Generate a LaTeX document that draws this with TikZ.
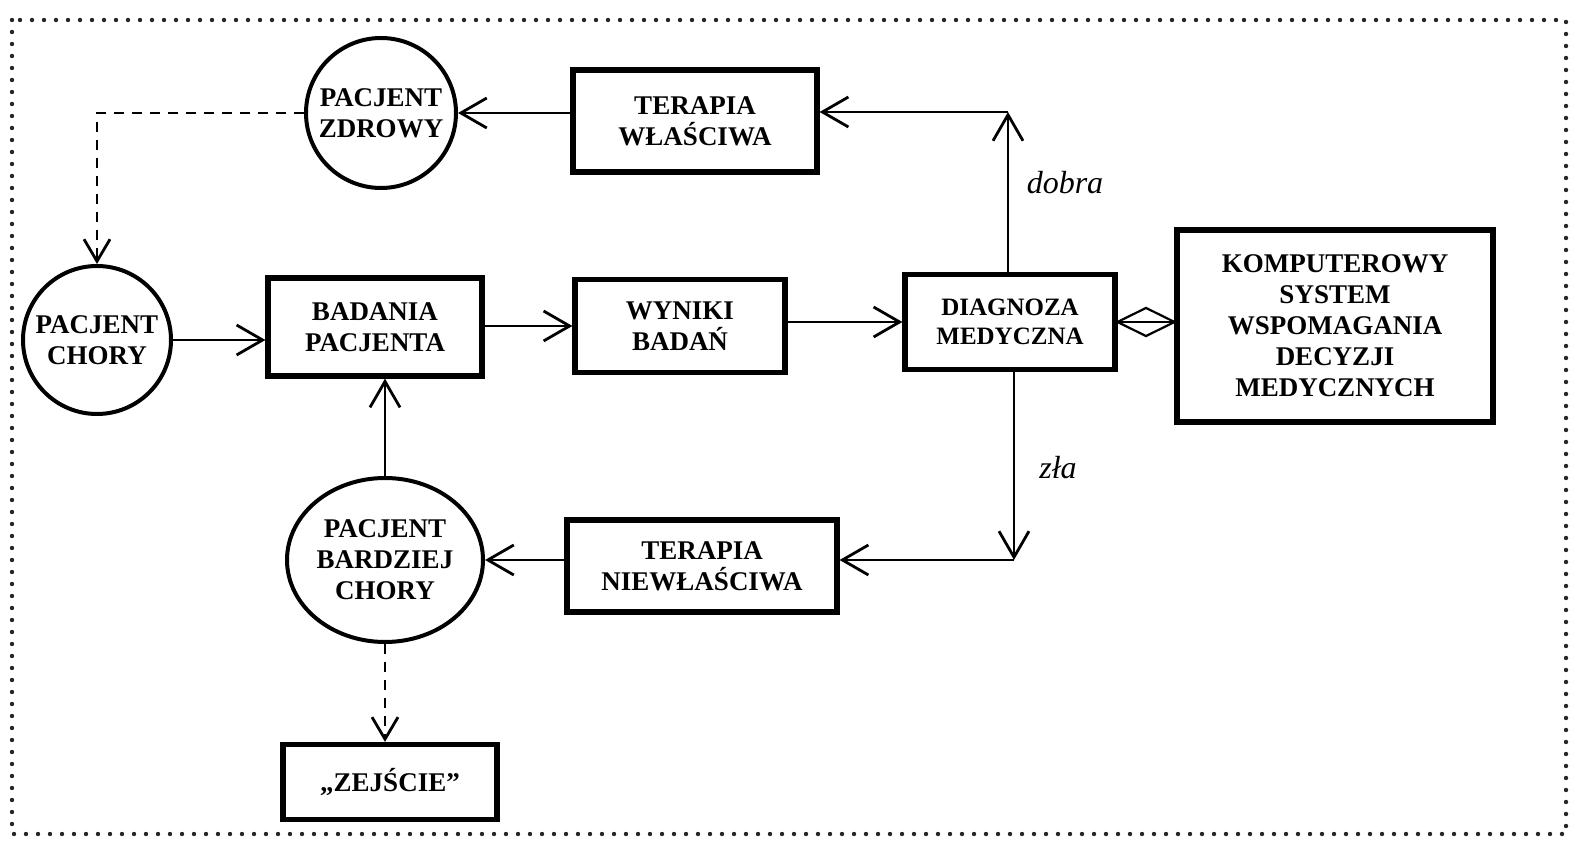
\documentclass[tikz,border=0pt]{standalone}
\usepackage{fontspec}
\setmainfont{Liberation Serif}
\usetikzlibrary{arrows.meta,shapes.geometric,calc}
\tikzset{
  boxnode/.style={draw, line width=2.6pt, rectangle, align=center, inner sep=2pt,
    font=\bfseries\fontsize{13.5}{15.5}\selectfont},
  circnode/.style={draw, line width=2pt, circle, align=center, inner sep=0pt,
    font=\bfseries\fontsize{13.5}{15.5}\selectfont},
  conn/.style={line width=1.4pt, -{Straight Barb[length=13pt,width=15pt,line width=1.4pt]}},
  plainline/.style={line width=1.4pt},
  dashconn/.style={line width=1.4pt, dash pattern=on 5pt off 4pt,
    -{Straight Barb[length=11pt,width=13pt,line width=1.4pt]}},
  lbl/.style={font=\itshape\fontsize{16}{18}\selectfont},
  frame/.style={line width=2.2pt, line cap=round, dash pattern=on 0pt off 6pt, black!85},
}
\begin{document}
\begin{tikzpicture}[x=0.5pt,y=-0.5pt]
\useasboundingbox (0,0) rectangle (1575,854);
\fill[white] (0,0) rectangle (1575,854);
\draw[frame] (12,20) rectangle (1566,834);

\node[circnode, minimum size=75pt] (zdrowy) at (381,113) {PACJENT\\ZDROWY};
\node[boxnode, minimum width=122pt, minimum height=51pt] (tw) at (695,121) {TERAPIA\\WŁAŚCIWA};
\node[circnode, minimum size=74pt] (chory) at (97,340) {PACJENT\\CHORY};
\node[boxnode, minimum width=107pt, minimum height=49pt] (badania) at (375,327) {BADANIA\\PACJENTA};
\node[boxnode, minimum width=105pt, minimum height=46.5pt] (wyniki) at (680,326) {WYNIKI\\BADAŃ};
\node[boxnode, minimum width=105pt, minimum height=47.5pt,
  font=\bfseries\fontsize{12.5}{14.5}\selectfont] (diag) at (1010,322) {DIAGNOZA\\MEDYCZNA};
\node[boxnode, minimum width=158pt, minimum height=96pt] (kds) at (1335,326)
  {KOMPUTEROWY\\SYSTEM\\WSPOMAGANIA\\DECYZJI\\MEDYCZNYCH};
\node[boxnode, minimum width=135pt, minimum height=46pt] (tn) at (702,566) {TERAPIA\\NIEWŁAŚCIWA};
\node[draw, line width=2pt, ellipse, align=center, inner sep=0pt,
  font=\bfseries\fontsize{13.5}{15.5}\selectfont,
  minimum width=98pt, minimum height=82pt] (bardziej) at (385,560) {PACJENT\\BARDZIEJ\\CHORY};
\node[boxnode, minimum width=107pt, minimum height=37.5pt] (zejscie) at (390,782) {„ZEJŚCIE”};

\coordinate (cd) at (1008,112);
\coordinate (cz) at (1014,560);

% main flow
\draw[conn] (chory.east) -- (badania.west |- chory.east);
\draw[conn] (badania.east |- wyniki.west) -- (wyniki.west);
\draw[conn] (wyniki.east |- diag.west) -- (diag.west);

% diagnosis branches
\draw[conn] (diag.north -| cd) -- (cd);
\draw[conn] (cd) -- (tw.east |- cd);
\draw[conn] (diag.south -| cz) -- (cz);
\draw[conn] (cz) -- (tn.east |- cz);
\node[lbl] (dobra) at (1065,183) {dobra};
\node[lbl] (zla) at (1058,468) {zła};

% therapy outcomes
\draw[conn] (tw.west |- zdrowy.east) -- (zdrowy.east);
\draw[conn] (tn.west |- cz) -- (bardziej.east |- cz);
\draw[conn] (bardziej.north) -- (badania.south -| bardziej.north);

% dashed
\draw[dashconn] (zdrowy.west) -| (chory.north);
\draw[dashconn] (bardziej.south) -- (zejscie.north -| bardziej.south);

% diamond link
\draw[plainline] (diag.east) -- (kds.west |- diag.east);
\node[draw, diamond, line width=1.1pt, minimum width=29pt, minimum height=14.5pt, inner sep=0pt, aspect=2]
  (dia) at ($(diag.east)!0.5!(kds.west |- diag.east)$) {};
\end{tikzpicture}
\end{document}
